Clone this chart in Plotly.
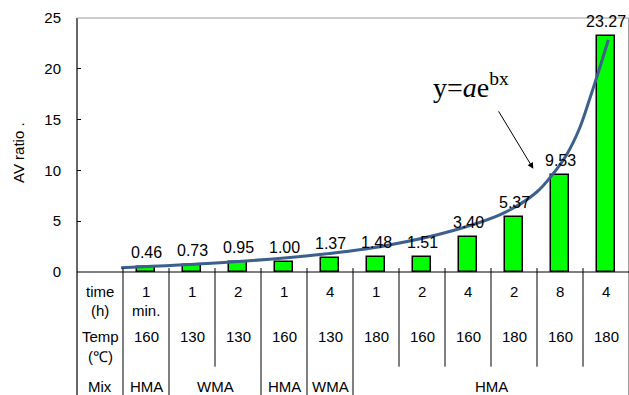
import plotly.graph_objects as go

# Asphalt mixes: bar values (AV ratio) per condition
av_ratio = [0.46, 0.73, 0.95, 1.00, 1.37, 1.48, 1.51, 3.40, 5.37, 9.53, 23.27]
time_h = ["1", "1", "2", "1", "4", "1", "2", "4", "2", "8", "4"]
time_sub = ["min.", "", "", "", "", "", "", "", "", "", ""]
temp_c = ["160", "130", "130", "160", "130", "180", "160", "160", "180", "160", "180"]
# Mix groups: (label, first position, last position)
mix_groups = [("HMA", 1, 1), ("WMA", 2, 3), ("HMA", 4, 4), ("WMA", 5, 5), ("HMA", 6, 11)]
y_ticks = [0, 5, 10, 15, 20, 25]

# Exponential trend curve, sampled points
curve_x = [0.46, 2.61, 4.78, 6.23, 7.68, 8.77, 9.49, 9.85, 10.15, 10.43, 10.65, 10.85, 11.05]
curve_y = [0.43, 0.91, 1.72, 2.61, 4.08, 5.79, 7.85, 9.67, 11.6, 14.2, 17.1, 19.9, 22.85]

positions = list(range(1, len(av_ratio) + 1))

W, H = 629, 395
ML, MR, MT, MB = 77, 0, 18, 123
plot_h = H - MT - MB


def py(pixel_y):
    """Pixel row -> paper y."""
    return (H - MB - pixel_y) / plot_h


FONT = "Liberation Sans, Arial, sans-serif"

fig = go.Figure()

fig.add_trace(go.Bar(
    x=positions, y=av_ratio, width=0.39,
    marker=dict(color="#00FF00", line=dict(color="#000000", width=1.5)),
    showlegend=False, hoverinfo="skip",
))

fig.add_trace(go.Scatter(
    x=curve_x, y=curve_y, mode="lines",
    line=dict(color="#3C5F8E", width=3, shape="spline", smoothing=1.0),
    showlegend=False, hoverinfo="skip",
))

annotations = []
# value labels above bars
for xv, v in zip(positions, av_ratio):
    annotations.append(dict(
        x=xv, y=v, xref="x", yref="y", text=f"{v:.2f}", showarrow=False,
        yanchor="bottom", yshift=4, font=dict(family=FONT, size=16, color="#000"),
    ))

# table rows
row_time, row_time2, row_temp, row_temp2, row_mix = py(291.5), py(310), py(336), py(356.5), py(386.5)
cell_font = dict(family=FONT, size=15, color="#000")
for xv, t, ts, tc in zip(positions, time_h, time_sub, temp_c):
    annotations.append(dict(x=xv, y=row_time, xref="x", yref="paper", text=t,
                            showarrow=False, font=cell_font, yanchor="middle"))
    if ts:
        annotations.append(dict(x=xv, y=row_time2, xref="x", yref="paper", text=ts,
                                showarrow=False, font=cell_font, yanchor="middle"))
    annotations.append(dict(x=xv, y=row_temp, xref="x", yref="paper", text=tc,
                            showarrow=False, font=cell_font, yanchor="middle"))
for lab, a, b in mix_groups:
    annotations.append(dict(x=(a + b) / 2, y=row_mix, xref="x", yref="paper", text=lab,
                            showarrow=False, font=cell_font, yanchor="middle"))

row_heads = [("time", row_time), ("(h)", row_time2), ("Temp", row_temp),
             ("(℃)", row_temp2), ("Mix", row_mix)]
for lab, yy in row_heads:
    annotations.append(dict(x=0, y=yy, xref="x", yref="paper", text=lab,
                            showarrow=False, font=cell_font, yanchor="middle"))

# y-axis title
annotations.append(dict(x=(18 - ML) / (W - ML - MR), y=py(153), xref="paper", yref="paper",
                        text="AV ratio .", textangle=-90, showarrow=False,
                        xanchor="center", yanchor="middle",
                        font=dict(family=FONT, size=15, color="#000")))

# fitted-curve equation with arrow
annotations.append(dict(x=8.07, y=18.4, xref="x", yref="y",
                        text="y=<i>a</i>e<sup>bx</sup>", showarrow=False,
                        font=dict(family="Liberation Serif, Times New Roman, serif", size=28, color="#000")))
annotations.append(dict(x=9.42, y=10.16, ax=8.646, ay=15.96, xref="x", yref="y",
                        axref="x", ayref="y", text="", showarrow=True,
                        arrowhead=2, arrowsize=1.2, arrowwidth=1, arrowcolor="#000"))

shapes = []
# column separators of the table
mix_breaks = {0.5, 1.5, 3.5, 4.5, 5.5}
for k in range(len(positions)):
    xb = k + 0.5
    y_end = py(395) if xb in mix_breaks else py(366.7)
    shapes.append(dict(type="line", xref="x", yref="paper", x0=xb, x1=xb,
                       y0=py(268), y1=y_end, line=dict(color="#000", width=1)))
# frame: left axis extended, top and right borders
shapes.append(dict(type="line", xref="paper", yref="paper", x0=0, x1=0,
                   y0=1, y1=py(395), line=dict(color="#000", width=1.2)))
shapes.append(dict(type="line", xref="paper", yref="paper", x0=0, x1=1,
                   y0=1, y1=1, line=dict(color="#9a9a9a", width=1)))
shapes.append(dict(type="line", xref="x", yref="paper", x0=11.49, x1=11.49,
                   y0=1, y1=py(395), line=dict(color="#9a9a9a", width=1)))
shapes.append(dict(type="line", xref="paper", yref="paper", x0=0, x1=1,
                   y0=0, y1=0, line=dict(color="#000", width=1.2)))

fig.update_layout(
    width=W, height=H,
    margin=dict(l=ML, r=MR, t=MT, b=MB, pad=0),
    paper_bgcolor="white", plot_bgcolor="white",
    annotations=annotations, shapes=shapes,
    bargap=0,
    xaxis=dict(range=[-0.5, 11.5], showticklabels=False, showgrid=False,
               zeroline=False, showline=False, ticks=""),
    yaxis=dict(range=[0, 25], tickvals=y_ticks, showgrid=False, zeroline=False,
               showline=False, ticks="inside", ticklen=4, tickcolor="#000",
               ticklabelstandoff=15,
               tickfont=dict(family=FONT, size=15, color="#000")),
)

fig.write_html("out.html")
